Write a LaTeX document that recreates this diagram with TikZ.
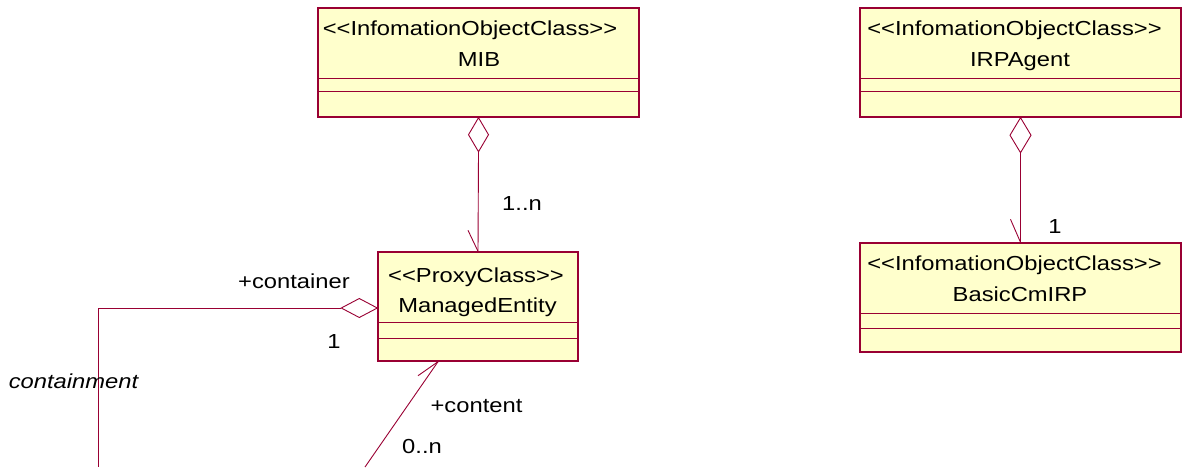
\documentclass[tikz,border=0pt]{standalone}
\usepackage{fontspec}
\setmainfont{Liberation Sans}[FakeStretch=1.17, Ligatures=TeXOff]
\usetikzlibrary{calc}
\definecolor{umlred}{RGB}{153,0,51}
\definecolor{umlfill}{RGB}{255,255,204}
\tikzset{
  classbox/.style={draw=umlred, fill=umlfill, line width=1.4pt, inner sep=0pt, minimum height=109pt},
  divider/.style={draw=umlred, line width=1pt},
  conn/.style={draw=umlred, line width=0.9pt},
  agg/.style={draw=umlred, line width=0.9pt, fill=white},
  txt/.style={inner sep=0pt, anchor=base, font=\fontsize{20.3}{24}\selectfont},
}
\begin{document}
\begin{tikzpicture}[x=1pt, y=-1pt]
\useasboundingbox (0,0) rectangle (1184,467);

% class boxes
\node[classbox, minimum width=321pt] (mib) at (478.5,62.5) {};
\node[classbox, minimum width=321pt] (agent) at (1020.5,62.5) {};
\node[classbox, minimum width=321pt] (basic) at (1020.5,297.5) {};
\node[classbox, minimum width=200pt] (me) at (478,306.5) {};

% dividers
\draw[divider] (mib.west |- 0,78) -- (mib.east |- 0,78);
\draw[divider] (mib.west |- 0,91) -- (mib.east |- 0,91);
\draw[divider] (agent.west |- 0,78) -- (agent.east |- 0,78);
\draw[divider] (agent.west |- 0,91) -- (agent.east |- 0,91);
\draw[divider] (basic.west |- 0,313) -- (basic.east |- 0,313);
\draw[divider] (basic.west |- 0,328) -- (basic.east |- 0,328);
\draw[divider] (me.west |- 0,322) -- (me.east |- 0,322);
\draw[divider] (me.west |- 0,338) -- (me.east |- 0,338);

% class texts
\node[txt] (mibs) at (470,35) {<<InfomationObjectClass>>};
\node[txt] (mibn) at (479,66) {MIB};
\node[txt] (agents) at (1014.5,35) {<<InfomationObjectClass>>};
\node[txt] (agentn) at (1020,66) {IRPAgent};
\node[txt] (basics) at (1014.5,270) {<<InfomationObjectClass>>};
\node[txt] (basicn) at (1020,301) {BasicCmIRP};
\node[txt] (mes) at (476,282) {<<ProxyClass>>};
\node[txt] (men) at (477.5,312) {ManagedEntity};

% MIB -> ManagedEntity aggregation
\draw[agg] (mib.south) -- ++(10,17) -- ++(-10,17) -- ++(-10,-17) -- cycle;
\coordinate (mibd) at ($(mib.south)+(0,34)$);
\draw[conn] (mibd) -- (me.north);
\draw[conn] (me.north) -- ++(-10,-21);

% IRPAgent -> BasicCmIRP aggregation
\draw[agg] (agent.south) -- ++(10.5,17.5) -- ++(-10.5,17.5) -- ++(-10.5,-17.5) -- cycle;
\coordinate (agentd) at ($(agent.south)+(0,35)$);
\draw[conn] (agentd) -- (basic.north);
\draw[conn] (basic.north) -- ++(-10,-23);

% containment (container side)
\coordinate (cont) at ($(me.west)+(0,1.5)$);
\draw[agg] (cont) -- ++(-18,-9.5) -- ++(-18,9.5) -- ++(18,9.5) -- cycle;
\coordinate (contd) at ($(cont)+(-36,0)$);
\coordinate (cbend) at (98,308);
\coordinate (cend) at (98,467);
\draw[conn] (contd) -- (cbend) -- (cend);

% containment (content side)
\coordinate (ctip) at ($(me.south)+(-40,0)$);
\coordinate (cstart) at (365,467);
\draw[conn] (cstart) -- (ctip);
\draw[conn] (ctip) -- ++(-20,14);

% labels
\node[txt] (l1n) at (522,210) {1..n};
\node[txt] (l1) at (1055,233) {1};
\node[txt] (lcontainer) at (294,288) {+container};
\node[txt] (lone) at (334,348) {1};
\node[txt] (lcontent) at (476.5,412) {+content};
\node[txt] (l0n) at (422,453) {0..n};
\node[txt, font=\fontsize{20.3}{24}\selectfont\itshape] (lcontainment) at (73.5,388) {containment};
\end{tikzpicture}
\end{document}
